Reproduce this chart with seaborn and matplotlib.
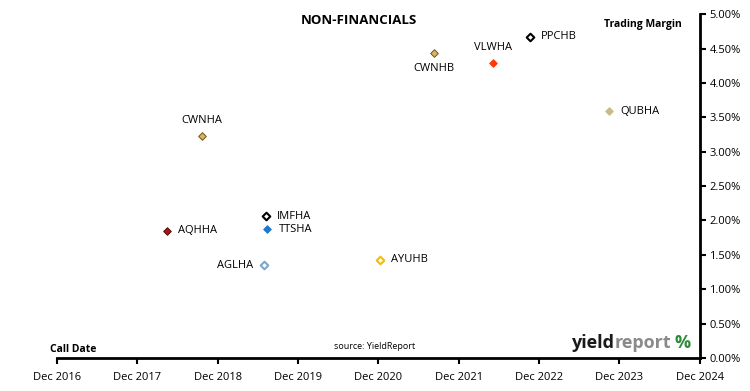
import pandas as pd
import matplotlib
matplotlib.use("Agg")
import matplotlib.pyplot as plt
import matplotlib.dates as mdates
from matplotlib.ticker import PercentFormatter
import seaborn as sns

# Dados
codigos = ["AQHHA", "CWNHA", "IMFHA", "TTSHA", "AGLHA", "AYUHB", "CWNHB", "VLWHA", "PPCHB", "QUBHA"]
datas = ["2018-04-15", "2018-09-20", "2019-07-10", "2019-07-15", "2019-07-01",
         "2020-12-10", "2021-08-10", "2022-05-05", "2022-10-20", "2023-10-15"]
margens = [1.85, 3.23, 2.06, 1.87, 1.35, 1.43, 4.43, 4.29, 4.67, 3.59]

# Estilo dos marcadores (preenchimento, borda) e posição dos rótulos
preench = ["#9B1B1B", "#D9B65C", "white", "#1F78C8", "white", "white", "#D9B65C", "#FF3A0A", "white", "#C9B98C"]
bordas = ["#5A0A0A", "#6B5520", "black", "#1F78C8", "#7FA6C8", "#F5BE00", "#6B5520", "#FF3A0A", "black", "#C9B98C"]
posicao = ["dir", "cima", "dir", "dir", "esq", "dir", "baixo", "cima", "dir", "dir"]

df = pd.DataFrame({"codigo": codigos, "data": pd.to_datetime(datas), "margem": margens})

sns.set_theme(style="white")
plt.rcParams["font.family"] = ["Open Sans", "DejaVu Sans"]
plt.rcParams["text.color"] = "black"
plt.rcParams["xtick.color"] = "black"
plt.rcParams["ytick.color"] = "black"

fig = plt.figure(figsize=(7.5, 3.91), dpi=100)
ax = fig.add_axes([0.076, 0.0844, 0.857, 0.8795])

for i, linha in df.iterrows():
    sns.scatterplot(x=[linha["data"]], y=[linha["margem"]], ax=ax, marker="D", s=15,
                    color=preench[i], edgecolor=bordas[i], linewidth=1.5 if preench[i] == "white" else 0.7,
                    zorder=3)
    if posicao[i] == "dir":
        ax.annotate(linha["codigo"], (linha["data"], linha["margem"]), xytext=(8, 0),
                    textcoords="offset points", ha="left", va="center", fontsize=8)
    elif posicao[i] == "esq":
        ax.annotate(linha["codigo"], (linha["data"], linha["margem"]), xytext=(-8, 0),
                    textcoords="offset points", ha="right", va="center", fontsize=8)
    elif posicao[i] == "cima":
        ax.annotate(linha["codigo"], (linha["data"], linha["margem"]), xytext=(0, 7),
                    textcoords="offset points", ha="center", va="bottom", fontsize=8)
    else:
        ax.annotate(linha["codigo"], (linha["data"], linha["margem"]), xytext=(0, -7),
                    textcoords="offset points", ha="center", va="top", fontsize=8)

# Eixos
ax.set_xlim(pd.Timestamp("2016-12-01"), pd.Timestamp("2024-12-01"))
ax.set_ylim(0, 5)
ax.xaxis.set_major_locator(mdates.MonthLocator(bymonth=12))
ax.xaxis.set_major_formatter(mdates.DateFormatter("Dec %Y"))
ax.yaxis.set_major_locator(plt.MultipleLocator(0.5))
ax.yaxis.set_major_formatter(PercentFormatter(decimals=2))
ax.yaxis.tick_right()
ax.set_xlabel("")
ax.set_ylabel("")

sns.despine(ax=ax, left=True, top=True, right=False)
for lado in ["right", "bottom"]:
    ax.spines[lado].set_color("black")
    ax.spines[lado].set_linewidth(2)
ax.tick_params(axis="y", direction="out", length=4, width=1.5, color="black", labelsize=8, pad=3, right=True)
ax.tick_params(axis="x", direction="out", length=4, width=1.5, color="black", labelsize=8, pad=6, bottom=True)
ax.grid(False)

# Textos
fig.text(0.479, 0.948, "NON-FINANCIALS", ha="center", va="center", fontsize=9.5, fontweight="bold")
fig.text(0.857, 0.938, "Trading Margin", ha="center", va="center", fontsize=7.5, fontweight="bold")
fig.text(0.067, 0.106, "Call Date", ha="left", va="center", fontsize=7.5, fontweight="bold")
fig.text(0.446, 0.113, "source: YieldReport", ha="left", va="center", fontsize=6.5)

# Logo
logo1 = fig.text(0.762, 0.122, "yield", ha="left", va="center", fontsize=13, fontweight="bold", color="#1A1A1A")
fig.canvas.draw()
bb = logo1.get_window_extent().transformed(fig.transFigure.inverted())
logo2 = fig.text(bb.x1, 0.122, "report", ha="left", va="center", fontsize=13, fontweight="bold", color="#8A8A8A")
fig.canvas.draw()
bb = logo2.get_window_extent().transformed(fig.transFigure.inverted())
fig.text(bb.x1 + 0.004, 0.122, "%", ha="left", va="center", fontsize=13, fontweight="bold", color="#2E8B3A")

fig.savefig("out.png", dpi=100)
